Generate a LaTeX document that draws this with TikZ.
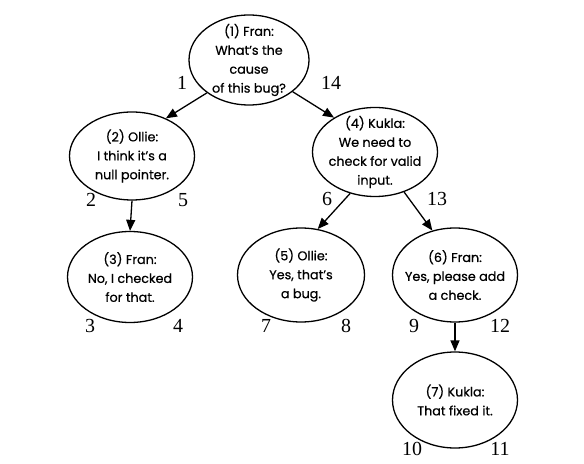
\documentclass[tikz,border=0pt]{standalone}
\usepackage{fontspec}
\setmainfont{Liberation Serif}
\newfontfamily\talkfont[FakeBold=0.6]{Poppins}
\usetikzlibrary{shapes.geometric,arrows.meta}
\tikzset{
  talk/.style={ellipse, draw, line width=1.3bp, inner xsep=-20bp, inner ysep=-15bp, align=center,
    minimum width=125bp, minimum height=92bp,
    font=\talkfont\fontsize{12.8}{19}\selectfont},
  num/.style={inner sep=0pt, font=\fontsize{20}{20}\selectfont},
  reply/.style={line width=1.3bp, -{Triangle[length=11bp,width=9bp]}}
}
\begin{document}
\begin{tikzpicture}[x=1bp,y=-1bp]
\useasboundingbox (0,0) rectangle (584,464);
\node[talk, minimum width=120bp, minimum height=90bp] (n1) at (249,60) {(1) Fran:\\What’s the\\cause\\of this bug?};
\node[talk, minimum height=88bp] (n2) at (132,156) {(2) Ollie:\\I think it’s a\\null pointer.};
\node[talk, minimum height=91bp] (n3) at (130,277) {(3) Fran:\\No, I checked\\for that.};
\node[talk, minimum height=89bp] (n4) at (375,152) {(4) Kukla:\\We need to\\check for valid\\input.};
\node[talk, minimum width=127bp, minimum height=94bp] (n5) at (301,275) {(5) Ollie:\\Yes, that’s\\a bug.};
\node[talk, minimum height=94bp] (n6) at (455,275) {(6) Fran:\\Yes, please add\\a check.};
\node[talk, minimum height=96bp] (n7) at (455,400) {(7) Kukla:\\That fixed it.};
\draw[reply] (n1.218) -- (n2.48);
\draw[reply] (n1.324) -- (n4.140);
\draw[reply] (n2.south) -- (n3.north);
\draw[reply] (n4.239) -- (n5.70);
\draw[reply] (n4.306) -- (n6.117);
\draw[reply] (n6.south) -- (n7.north);
\node[num] (l1) at (182,83) {1};
\node[num] (l14) at (331,83) {14};
\node[num] (l2) at (91,200) {2};
\node[num] (l5) at (183,200) {5};
\node[num] (l3) at (90,326) {3};
\node[num] (l4) at (178,326) {4};
\node[num] (l6) at (327,199) {6};
\node[num] (l13) at (437,199) {13};
\node[num] (l7) at (266,326) {7};
\node[num] (l8) at (346,326) {8};
\node[num] (l9) at (414,326) {9};
\node[num] (l12) at (500,326) {12};
\node[num] (l10) at (412,449) {10};
\node[num] (l11) at (500,449) {11};
\end{tikzpicture}
\end{document}
